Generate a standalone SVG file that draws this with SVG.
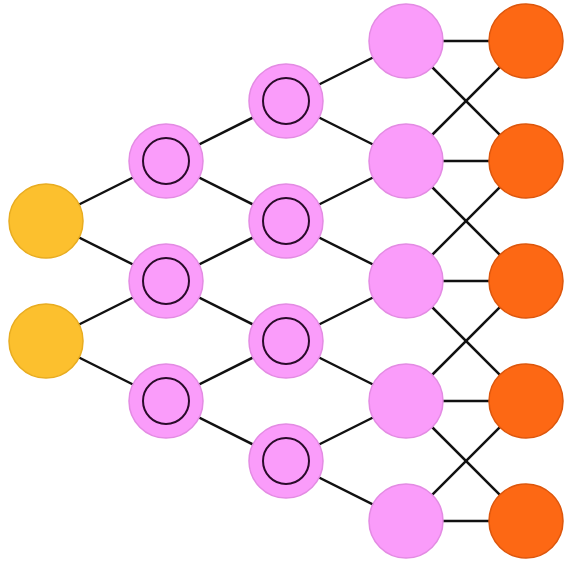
<svg xmlns="http://www.w3.org/2000/svg" width="572" height="578" viewBox="0 0 572 578">
<style>
.e{stroke:#111;stroke-width:2.5;fill:none}
.y{fill:#FCC02E;stroke:#E8AC20;stroke-width:1.5}
.p{fill:#FA9CFA;stroke:#E38BE3;stroke-width:1.5}
.o{fill:#FD6814;stroke:#DD560C;stroke-width:1.5}
.i{fill:none;stroke:#2a0a2a;stroke-width:2}
</style>
<rect width="572" height="578" fill="#fff"/>
<g id="connectors" class="e">
<line x1="46" y1="221" x2="166" y2="161"/>
<line x1="46" y1="221" x2="166" y2="281"/>
<line x1="46" y1="341" x2="166" y2="281"/>
<line x1="46" y1="341" x2="166" y2="401"/>
<line x1="166" y1="161" x2="286" y2="101"/>
<line x1="166" y1="161" x2="286" y2="221"/>
<line x1="166" y1="281" x2="286" y2="221"/>
<line x1="166" y1="281" x2="286" y2="341"/>
<line x1="166" y1="401" x2="286" y2="341"/>
<line x1="166" y1="401" x2="286" y2="461"/>
<line x1="286" y1="101" x2="406" y2="41"/>
<line x1="286" y1="101" x2="406" y2="161"/>
<line x1="286" y1="221" x2="406" y2="161"/>
<line x1="286" y1="221" x2="406" y2="281"/>
<line x1="286" y1="341" x2="406" y2="281"/>
<line x1="286" y1="341" x2="406" y2="401"/>
<line x1="286" y1="461" x2="406" y2="401"/>
<line x1="286" y1="461" x2="406" y2="521"/>
<line x1="406" y1="41" x2="526" y2="41"/>
<line x1="406" y1="41" x2="526" y2="161"/>
<line x1="406" y1="161" x2="526" y2="41"/>
<line x1="406" y1="161" x2="526" y2="161"/>
<line x1="406" y1="161" x2="526" y2="281"/>
<line x1="406" y1="281" x2="526" y2="161"/>
<line x1="406" y1="281" x2="526" y2="281"/>
<line x1="406" y1="281" x2="526" y2="401"/>
<line x1="406" y1="401" x2="526" y2="281"/>
<line x1="406" y1="401" x2="526" y2="401"/>
<line x1="406" y1="401" x2="526" y2="521"/>
<line x1="406" y1="521" x2="526" y2="401"/>
<line x1="406" y1="521" x2="526" y2="521"/>
</g>
<g id="in1"><circle class="y" cx="46" cy="221" r="37"/></g>
<g id="in2"><circle class="y" cx="46" cy="341" r="37"/></g>
<g id="h1a"><circle class="p" cx="166" cy="161" r="37"/><circle class="i" cx="166" cy="161" r="23"/></g>
<g id="h1b"><circle class="p" cx="166" cy="281" r="37"/><circle class="i" cx="166" cy="281" r="23"/></g>
<g id="h1c"><circle class="p" cx="166" cy="401" r="37"/><circle class="i" cx="166" cy="401" r="23"/></g>
<g id="h2a"><circle class="p" cx="286" cy="101" r="37"/><circle class="i" cx="286" cy="101" r="23"/></g>
<g id="h2b"><circle class="p" cx="286" cy="221" r="37"/><circle class="i" cx="286" cy="221" r="23"/></g>
<g id="h2c"><circle class="p" cx="286" cy="341" r="37"/><circle class="i" cx="286" cy="341" r="23"/></g>
<g id="h2d"><circle class="p" cx="286" cy="461" r="37"/><circle class="i" cx="286" cy="461" r="23"/></g>
<g id="h3a"><circle class="p" cx="406" cy="41" r="37"/></g>
<g id="h3b"><circle class="p" cx="406" cy="161" r="37"/></g>
<g id="h3c"><circle class="p" cx="406" cy="281" r="37"/></g>
<g id="h3d"><circle class="p" cx="406" cy="401" r="37"/></g>
<g id="h3e"><circle class="p" cx="406" cy="521" r="37"/></g>
<g id="out1"><circle class="o" cx="526" cy="41" r="37"/></g>
<g id="out2"><circle class="o" cx="526" cy="161" r="37"/></g>
<g id="out3"><circle class="o" cx="526" cy="281" r="37"/></g>
<g id="out4"><circle class="o" cx="526" cy="401" r="37"/></g>
<g id="out5"><circle class="o" cx="526" cy="521" r="37"/></g>
</svg>
